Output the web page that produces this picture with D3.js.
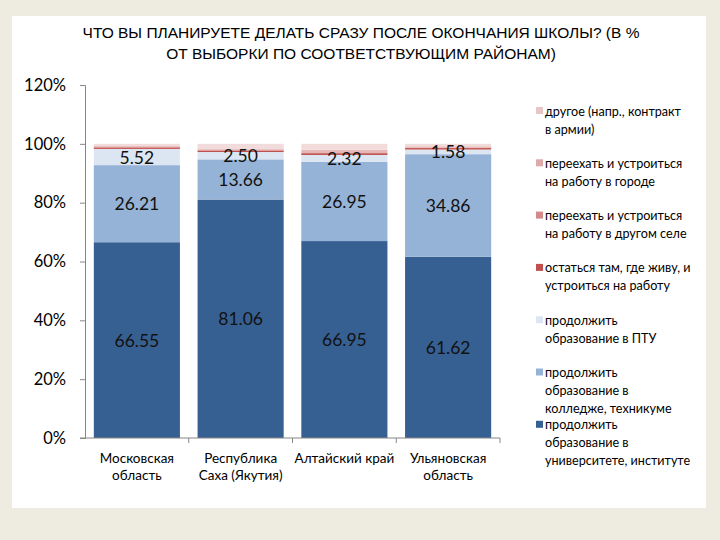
<!DOCTYPE html>
<html>
<head>
<meta charset="utf-8">
<script src="https://cdn.jsdelivr.net/npm/d3@7"></script>
<style>
  html, body { margin: 0; padding: 0; background: #EEECE1; }
  svg { display: block; }
</style>
</head>
<body>
<div id="chart"></div>
<script>
// Categories (regions), each as lines of the axis label
const categories = ['Московская область', 'Республика Саха (Якутия)', 'Алтайский край', 'Ульяновская область'];
const categoryLines = [['Московская', 'область'], ['Республика', 'Саха (Якутия)'], ['Алтайский край'], ['Ульяновская', 'область']];

// Series, bottom to top of each stack (percent of sample)
const univ    = [66.55, 81.06, 66.95, 61.62];
const college = [26.21, 13.66, 26.95, 34.86];
const ptu     = [5.52, 2.50, 2.32, 1.58];
const stay    = [0.5, 0.5, 0.6, 0.5];
const village = [0.2, 0.3, 0.3, 0.2];
const city    = [0.3, 0.4, 0.9, 0.4];
const other   = [0.72, 1.58, 1.98, 0.84];

const seriesKeys = ['univ', 'college', 'ptu', 'stay', 'village', 'city', 'other'];
const seriesLegend = [
    ['продолжить', 'образование в', 'университете, институте'],
    ['продолжить', 'образование в', 'колледже, техникуме'],
    ['продолжить', 'образование в ПТУ'],
    ['остаться там, где живу, и', 'устроиться на работу'],
    ['переехать и устроиться', 'на работу в другом селе'],
    ['переехать и устроиться', 'на работу в городе'],
    ['другое (напр., контракт', 'в армии)']
];
const seriesColors = ['#376092', '#95B3D7', '#DCE6F2', '#C0504D', '#D99694', '#E6B9B8', '#F2DCDB'];
const legendColors = ['#376092', '#95B3D7', '#DCE6F2', '#C0504D', '#D48A88', '#DDA9A9', '#E8C6C6'];
const labelledKeys = ['univ', 'college', 'ptu'];

const yTicks = [0, 20, 40, 60, 80, 100, 120];
const titleLines = ['ЧТО ВЫ ПЛАНИРУЕТЕ ДЕЛАТЬ СРАЗУ ПОСЛЕ ОКОНЧАНИЯ ШКОЛЫ? (В %', 'ОТ ВЫБОРКИ ПО СООТВЕТСТВУЮЩИМ РАЙОНАМ)'];

const width = 720, height = 540;
const font = 'Lato, "Open Sans", sans-serif';

const svg = d3.select('#chart').append('svg')
    .attr('width', width)
    .attr('height', height);

// White slide panel
svg.append('rect')
    .attr('x', 12).attr('y', 16)
    .attr('width', 694).attr('height', 492)
    .attr('fill', '#fff');

// Title
svg.append('g')
    .selectAll('text')
    .data(titleLines)
    .join('text')
    .attr('x', 361)
    .attr('y', (d, i) => 38 + i * 21)
    .attr('text-anchor', 'middle')
    .attr('font-family', '"Liberation Sans Narrow", "Arial Narrow", sans-serif')
    .attr('font-size', 15.5)
    .attr('fill', '#000')
    .text(d => d);

const rows = categories.map((c, i) => ({
    category: c,
    univ: univ[i], college: college[i], ptu: ptu[i], stay: stay[i],
    village: village[i], city: city[i], other: other[i]
}));

const x = d3.scaleBand()
    .domain(categories)
    .range([85, 500])
    .paddingInner(0.17)
    .paddingOuter(0.085);

const y = d3.scaleLinear()
    .domain([0, 120])
    .range([438, 85]);

const stacked = d3.stack().keys(seriesKeys)(rows);

// Bars
const layer = svg.append('g')
    .selectAll('g')
    .data(stacked)
    .join('g')
    .attr('fill', (d, i) => seriesColors[i]);

layer.selectAll('rect')
    .data(d => d)
    .join('rect')
    .attr('x', d => x(d.data.category))
    .attr('y', d => y(d[1]))
    .attr('width', x.bandwidth())
    .attr('height', d => y(d[0]) - y(d[1]));

// Data labels
svg.append('g')
    .selectAll('g')
    .data(stacked.filter(s => labelledKeys.includes(s.key)))
    .join('g')
    .selectAll('text')
    .data(d => d)
    .join('text')
    .attr('x', d => x(d.data.category) + x.bandwidth() / 2)
    .attr('y', d => (y(d[0]) + y(d[1])) / 2 + 6.5)
    .attr('text-anchor', 'middle')
    .attr('font-family', font)
    .attr('font-size', 17.5)
    .attr('fill', '#111')
    .text(d => d3.format('.2f')(d[1] - d[0]));

// Y axis
const yAxis = svg.append('g')
    .attr('transform', 'translate(85,0)')
    .call(d3.axisLeft(y).tickValues(yTicks).tickSize(5).tickPadding(14).tickFormat(d => d + '%'));
yAxis.select('.domain').attr('stroke', '#868686');
yAxis.selectAll('.tick line').attr('stroke', '#868686');
yAxis.selectAll('.tick text')
    .attr('font-family', font)
    .attr('font-size', 16.5)
    .attr('fill', '#000');

// X axis
const xAxis = svg.append('g')
    .attr('transform', 'translate(0,438)');
xAxis.append('line')
    .attr('x1', 80).attr('x2', 500)
    .attr('stroke', '#868686');
xAxis.selectAll('.sep')
    .data(categories)
    .join('line')
    .attr('class', 'sep')
    .attr('x1', d => x(d) + x.bandwidth() + x.step() * x.paddingInner() / 2)
    .attr('x2', d => x(d) + x.bandwidth() + x.step() * x.paddingInner() / 2)
    .attr('y1', 0).attr('y2', 5)
    .attr('stroke', '#868686');
xAxis.selectAll('.cat')
    .data(categories)
    .join('text')
    .attr('class', 'cat')
    .attr('x', d => x(d) + x.bandwidth() / 2)
    .attr('y', 25)
    .attr('text-anchor', 'middle')
    .attr('font-family', font)
    .attr('font-size', 13.5)
    .attr('fill', '#000')
    .each(function(d, i) {
        d3.select(this).selectAll('tspan')
            .data(categoryLines[i])
            .join('tspan')
            .attr('x', x(d) + x.bandwidth() / 2)
            .attr('dy', (t, j) => j === 0 ? 0 : 17)
            .text(t => t);
    });

// Legend, top entry is the top series
const legendOrder = d3.range(seriesKeys.length).reverse();
const legend = svg.append('g')
    .selectAll('g')
    .data(legendOrder)
    .join('g')
    .attr('transform', (k, i) => `translate(536,${111 + i * 52.3})`);

legend.append('rect')
    .attr('x', 0).attr('y', -4)
    .attr('width', 7).attr('height', 7)
    .attr('fill', k => legendColors[k]);

legend.append('text')
    .attr('font-family', font)
    .attr('font-size', 12.6)
    .attr('fill', '#000')
    .each(function(k) {
        d3.select(this).selectAll('tspan')
            .data(seriesLegend[k])
            .join('tspan')
            .attr('x', 9)
            .attr('y', (t, j) => 4.5 + j * 18)
            .text(t => t);
    });
</script>
</body>
</html>
